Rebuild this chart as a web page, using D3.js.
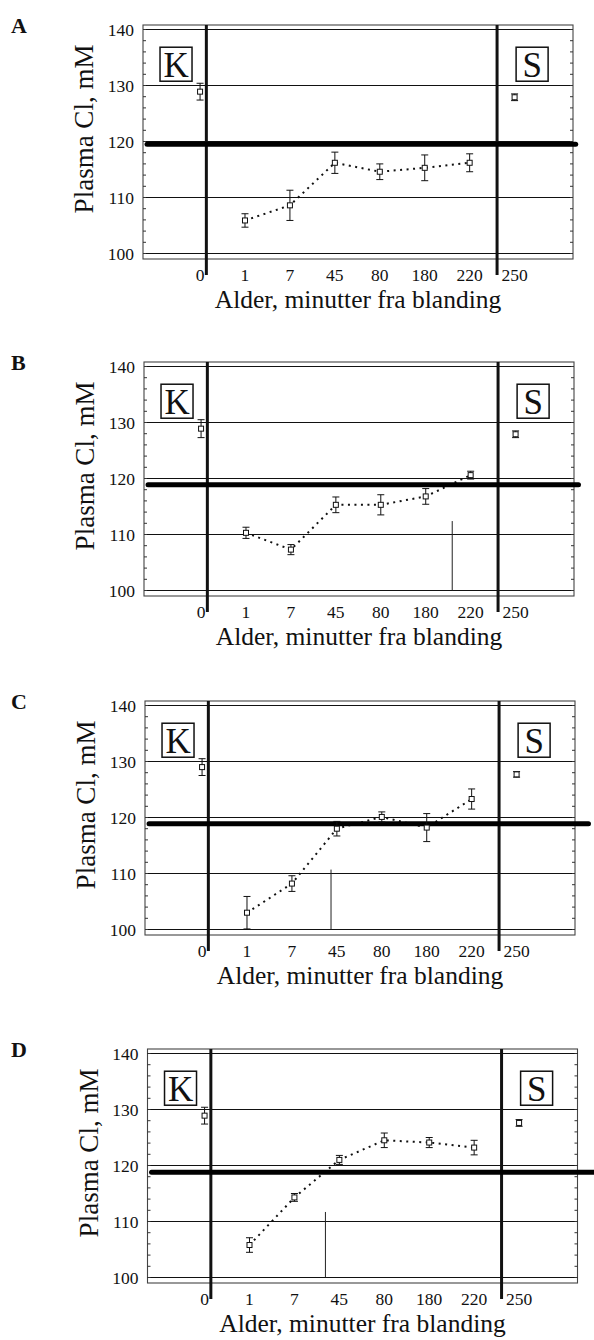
<!DOCTYPE html>
<html>
<head>
<meta charset="utf-8">
<script src="https://cdn.jsdelivr.net/npm/d3@7"></script>
<style>
  html, body { margin: 0; padding: 0; background: #fff; }
  svg { display: block; }
  text { font-family: "Liberation Serif", "Times New Roman", serif; fill: #111; }
</style>
</head>
<body>
<svg id="chart" width="594" height="1340"></svg>
<script>
// Sample-age labels (minutes after mixing); first = control K, last = S
const categories = ["0", "1", "7", "45", "80", "180", "220", "250"];
const panelNames = ["A", "B", "C", "D"];

// Plasma Cl (mM), mean and error per sample, panels A-D
const meansA = [128.9, 105.9, 108.6, 116.2, 114.6, 115.3, 116.2, 127.9];
const errA   = [1.5, 1.2, 2.7, 1.9, 1.4, 2.3, 1.6, 0.6];
const meansB = [128.9, 110.3, 107.3, 115.3, 115.3, 116.8, 120.6, 127.9];
const errB   = [1.6, 1.0, 0.9, 1.4, 1.8, 1.4, 0.7, 0.6];
const meansC = [129.0, 103.0, 108.2, 118.0, 120.1, 118.2, 123.3, 127.7];
const errC   = [1.5, 2.9, 1.4, 1.3, 0.9, 2.5, 1.8, 0.5];
const meansD = [128.9, 105.8, 114.3, 121.0, 124.5, 124.1, 123.2, 127.6];
const errD   = [1.5, 1.3, 0.7, 0.8, 1.3, 0.9, 1.3, 0.6];

// Reference level drawn as the heavy horizontal line
const referenceLevel = [119.5, 118.9, 118.9, 118.8];
// Thin vertical marker: position on the category axis and its top value (null = none)
const markerPos = [null, 5.59, 2.87, 2.69];
const markerTop = [null, 112.4, 110.7, 111.7];

const yTicks = [100, 110, 120, 130, 140];
const boxLabels = ["K", "S"];

const allMeans = [meansA, meansB, meansC, meansD];
const allErr = [errA, errB, errC, errD];

// Layout of each panel's frame
const frameLeft = [143, 144, 145, 147.5];
const frameTop = [25, 362, 701, 1049];
const refLineEnd = [8.36, 8.4, 8.6, 8.7];
const W = 430, H = 234;

const svg = d3.select("#chart");

panelNames.forEach((name, p) => {
  const g = svg.append("g").attr("transform", `translate(${frameLeft[p]},${frameTop[p]})`);
  const x = d3.scaleLinear().domain([-1.27, 8.3]).range([0, W]);
  const y = d3.scaleLinear().domain([100, 140]).range([H - 5.5, 4.5]);

  // frame
  g.append("rect").attr("x", 0).attr("y", 0).attr("width", W).attr("height", H)
    .attr("fill", "none").attr("stroke", "#444").attr("stroke-width", 1.1);

  // horizontal gridlines
  g.selectAll(".grid").data(yTicks).enter().append("line")
    .attr("x1", 0).attr("x2", W)
    .attr("y1", d => y(d)).attr("y2", d => y(d))
    .attr("stroke", "#111").attr("stroke-width", 1);

  // minor ticks on both sides every 2 mM
  const minor = d3.range(100, 141, 2);
  g.selectAll(".mtl").data(minor).enter().append("line")
    .attr("x1", 0).attr("x2", 3).attr("y1", d => y(d)).attr("y2", d => y(d))
    .attr("stroke", "#333").attr("stroke-width", 1);
  g.selectAll(".mtr").data(minor).enter().append("line")
    .attr("x1", W - 3).attr("x2", W).attr("y1", d => y(d)).attr("y2", d => y(d))
    .attr("stroke", "#333").attr("stroke-width", 1);

  // y tick labels
  g.selectAll(".ylab").data(yTicks).enter().append("text")
    .attr("x", -9).attr("y", d => y(d)).attr("dy", "0.35em")
    .attr("text-anchor", "end").attr("font-size", 17.5).text(d => d);

  // x tick labels
  g.selectAll(".xlab").data(categories).enter().append("text")
    .attr("x", (d, i) => x(i)).attr("y", H + 22)
    .attr("text-anchor", "middle").attr("font-size", 17.5).text(d => d);

  // heavy vertical separators (control | samples | S)
  [0.14, 6.61].forEach(v => {
    g.append("line").attr("x1", x(v)).attr("x2", x(v))
      .attr("y1", 0).attr("y2", H + 16)
      .attr("stroke", "#111").attr("stroke-width", 3);
  });

  // thin vertical marker
  if (markerPos[p] !== null) {
    g.append("line").attr("x1", x(markerPos[p])).attr("x2", x(markerPos[p]))
      .attr("y1", y(100)).attr("y2", y(markerTop[p]))
      .attr("stroke", "#222").attr("stroke-width", 1);
  }

  // dotted connecting line over the mixed samples
  const means = allMeans[p], err = allErr[p];
  const pts = means.map((v, i) => ({ i, v, e: err[i] }));
  const inner = pts.slice(1, 7);
  g.append("path")
    .attr("d", d3.line().x(d => x(d.i)).y(d => y(d.v))(inner))
    .attr("fill", "none").attr("stroke", "#111").attr("stroke-width", 2)
    .attr("stroke-dasharray", "2,4.5");

  // reference level
  g.append("line")
    .attr("x1", x(-1.18)).attr("x2", x(refLineEnd[p]))
    .attr("y1", y(referenceLevel[p])).attr("y2", y(referenceLevel[p]))
    .attr("stroke", "#000").attr("stroke-width", 5).attr("stroke-linecap", "round");

  // error bars
  const eb = g.selectAll(".eb").data(pts).enter().append("g");
  eb.append("line").attr("x1", d => x(d.i)).attr("x2", d => x(d.i))
    .attr("y1", d => y(d.v - d.e)).attr("y2", d => y(d.v + d.e))
    .attr("stroke", "#111").attr("stroke-width", 1);
  eb.append("line").attr("x1", d => x(d.i) - 3.5).attr("x2", d => x(d.i) + 3.5)
    .attr("y1", d => y(d.v + d.e)).attr("y2", d => y(d.v + d.e))
    .attr("stroke", "#111").attr("stroke-width", 1);
  eb.append("line").attr("x1", d => x(d.i) - 3.5).attr("x2", d => x(d.i) + 3.5)
    .attr("y1", d => y(d.v - d.e)).attr("y2", d => y(d.v - d.e))
    .attr("stroke", "#111").attr("stroke-width", 1);
  // open square markers
  eb.append("rect").attr("x", d => x(d.i) - 2.5).attr("y", d => y(d.v) - 2.5)
    .attr("width", 5).attr("height", 5)
    .attr("fill", "#fff").attr("stroke", "#111").attr("stroke-width", 1);

  // K and S boxes
  [-0.535, 7.39].forEach((v, k) => {
    const cx = x(v), cy = y(133.8);
    g.append("rect").attr("x", cx - 16).attr("y", cy - 17).attr("width", 32).attr("height", 34)
      .attr("fill", "#fff").attr("stroke", "#111").attr("stroke-width", 1.5);
    g.append("text").attr("x", cx).attr("y", cy + 12.5)
      .attr("text-anchor", "middle").attr("font-size", 35).text(boxLabels[k]);
  });

  // axis titles
  g.append("text").attr("x", W / 2).attr("y", H + 49)
    .attr("text-anchor", "middle").attr("font-size", 25.5)
    .text("Alder, minutter fra blanding");
  g.append("text")
    .attr("transform", `translate(-50,${104}) rotate(-90)`)
    .attr("text-anchor", "middle").attr("font-size", 27)
    .text("Plasma Cl, mM");

  // panel letter
  svg.append("text").attr("x", 11).attr("y", frameTop[p] + 8)
    .attr("font-size", 22).attr("font-weight", "bold").text(name);
});
</script>
</body>
</html>
